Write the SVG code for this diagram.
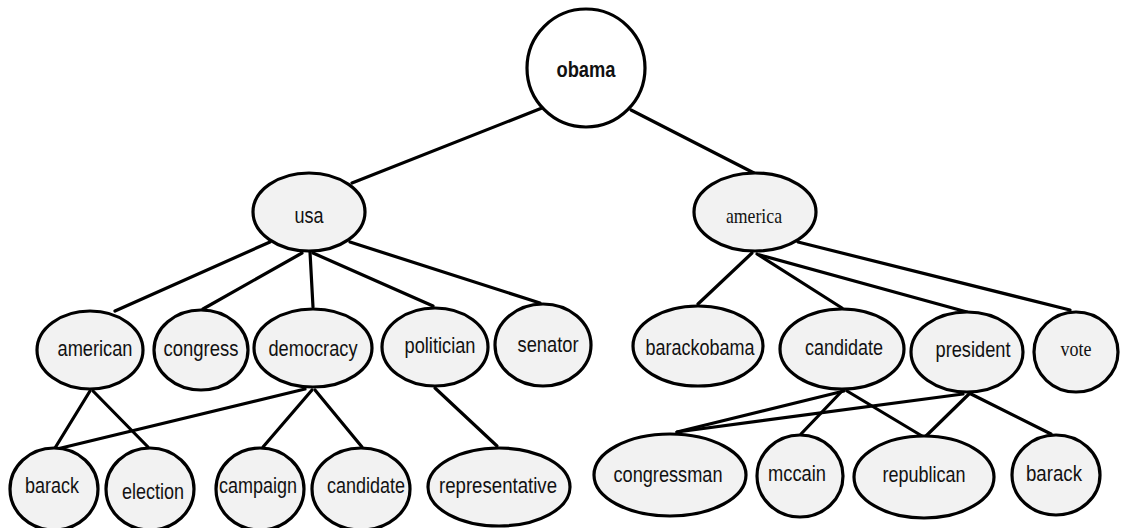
<svg xmlns="http://www.w3.org/2000/svg" width="1122" height="528" viewBox="0 0 1122 528">
  <style>
    .edge { stroke: #000; stroke-width: 3.2; stroke-linecap: round; fill: none; }
    .node { fill: #f2f2f2; stroke: #000; stroke-width: 3.2; }
    .root { fill: #fff; stroke: #000; stroke-width: 3.2; }
    .lbl { font-family: "Liberation Sans", Arial, sans-serif; font-size: 22px; fill: #111; text-anchor: middle; }
    .serif { font-family: "Liberation Serif", "Times New Roman", serif; font-size: 22px; fill: #111; text-anchor: middle; }
    .bold { font-weight: bold; }
  </style>
  <rect width="1122" height="528" fill="#fff"/>

  <!-- connectors -->
  <g id="connectors">
    <line class="edge" x1="542" y1="108" x2="352" y2="183"/>
    <line class="edge" x1="631" y1="110" x2="754" y2="173"/>
    <line class="edge" x1="270" y1="242" x2="115" y2="311"/>
    <line class="edge" x1="302" y1="253" x2="203" y2="309"/>
    <line class="edge" x1="310" y1="252" x2="313" y2="307"/>
    <line class="edge" x1="313" y1="253" x2="433" y2="306"/>
    <line class="edge" x1="350" y1="242" x2="540" y2="303"/>
    <line class="edge" x1="90" y1="391" x2="55" y2="448"/>
    <line class="edge" x1="93" y1="391" x2="148" y2="447"/>
    <line class="edge" x1="305" y1="389" x2="57" y2="449"/>
    <line class="edge" x1="312" y1="390" x2="263" y2="447"/>
    <line class="edge" x1="315" y1="390" x2="362" y2="447"/>
    <line class="edge" x1="435" y1="388" x2="497" y2="446"/>
    <line class="edge" x1="752" y1="253" x2="698" y2="304"/>
    <line class="edge" x1="757" y1="254" x2="842" y2="308"/>
    <line class="edge" x1="760" y1="255" x2="967" y2="312"/>
    <line class="edge" x1="798" y1="242" x2="1070" y2="310"/>
    <line class="edge" x1="844" y1="391" x2="677" y2="432"/>
    <line class="edge" x1="963" y1="394" x2="677" y2="432"/>
    <line class="edge" x1="842" y1="391" x2="801" y2="434"/>
    <line class="edge" x1="847" y1="391" x2="922" y2="436"/>
    <line class="edge" x1="969" y1="394" x2="926" y2="436"/>
    <line class="edge" x1="971" y1="394" x2="1051" y2="434"/>
  </g>

  <!-- root -->
  <g id="n-obama">
    <circle class="root" cx="586" cy="68" r="59"/>
    <text class="lbl bold" x="586" y="77" textLength="59" lengthAdjust="spacingAndGlyphs">obama</text>
  </g>

  <!-- level 1 -->
  <g id="n-usa">
    <ellipse class="node" cx="309" cy="212" rx="56" ry="39"/>
    <text class="lbl" x="309" y="223" textLength="29" lengthAdjust="spacingAndGlyphs">usa</text>
  </g>
  <g id="n-america">
    <ellipse class="node" cx="755" cy="212" rx="61" ry="39"/>
    <text class="serif" x="754" y="223" textLength="56" lengthAdjust="spacingAndGlyphs">america</text>
  </g>

  <!-- level 2, left -->
  <g id="n-american">
    <ellipse class="node" cx="90" cy="350" rx="53" ry="39"/>
    <text class="lbl" x="95" y="356" textLength="75" lengthAdjust="spacingAndGlyphs">american</text>
  </g>
  <g id="n-congress">
    <ellipse class="node" cx="201" cy="350" rx="47" ry="40"/>
    <text class="lbl" x="201" y="356" textLength="75" lengthAdjust="spacingAndGlyphs">congress</text>
  </g>
  <g id="n-democracy">
    <ellipse class="node" cx="313" cy="348" rx="59" ry="39"/>
    <text class="lbl" x="313" y="356" textLength="89" lengthAdjust="spacingAndGlyphs">democracy</text>
  </g>
  <g id="n-politician">
    <ellipse class="node" cx="435" cy="347" rx="53" ry="39"/>
    <text class="lbl" x="440" y="353" textLength="71" lengthAdjust="spacingAndGlyphs">politician</text>
  </g>
  <g id="n-senator">
    <ellipse class="node" cx="543" cy="345" rx="48" ry="41"/>
    <text class="lbl" x="548" y="352" textLength="61" lengthAdjust="spacingAndGlyphs">senator</text>
  </g>

  <!-- level 2, right -->
  <g id="n-barackobama">
    <ellipse class="node" cx="698" cy="346" rx="65" ry="40"/>
    <text class="lbl" x="700" y="355" textLength="109" lengthAdjust="spacingAndGlyphs">barackobama</text>
  </g>
  <g id="n-candidate-r">
    <ellipse class="node" cx="842" cy="349" rx="62" ry="40"/>
    <text class="lbl" x="844" y="355" textLength="78" lengthAdjust="spacingAndGlyphs">candidate</text>
  </g>
  <g id="n-president">
    <ellipse class="node" cx="967" cy="352" rx="56" ry="40"/>
    <text class="lbl" x="973" y="357" textLength="75" lengthAdjust="spacingAndGlyphs">president</text>
  </g>
  <g id="n-vote">
    <ellipse class="node" cx="1076" cy="352" rx="42" ry="40"/>
    <text class="serif" x="1076" y="356" textLength="31" lengthAdjust="spacingAndGlyphs">vote</text>
  </g>

  <!-- level 3, left -->
  <g id="n-barack-l">
    <ellipse class="node" cx="54" cy="489" rx="44" ry="41"/>
    <text class="lbl" x="52" y="493" textLength="54" lengthAdjust="spacingAndGlyphs">barack</text>
  </g>
  <g id="n-election">
    <ellipse class="node" cx="150" cy="489" rx="44" ry="41"/>
    <text class="lbl" x="153" y="499" textLength="62" lengthAdjust="spacingAndGlyphs">election</text>
  </g>
  <g id="n-campaign">
    <ellipse class="node" cx="260" cy="489" rx="44" ry="41"/>
    <text class="lbl" x="258" y="493" textLength="78" lengthAdjust="spacingAndGlyphs">campaign</text>
  </g>
  <g id="n-candidate-l">
    <ellipse class="node" cx="361" cy="489" rx="49" ry="41"/>
    <text class="lbl" x="366" y="493" textLength="78" lengthAdjust="spacingAndGlyphs">candidate</text>
  </g>
  <g id="n-representative">
    <ellipse class="node" cx="499" cy="487" rx="71" ry="39"/>
    <text class="lbl" x="498" y="493" textLength="118" lengthAdjust="spacingAndGlyphs">representative</text>
  </g>

  <!-- level 3, right -->
  <g id="n-congressman">
    <ellipse class="node" cx="670" cy="475" rx="76" ry="41"/>
    <text class="lbl" x="668" y="482" textLength="109" lengthAdjust="spacingAndGlyphs">congressman</text>
  </g>
  <g id="n-mccain">
    <ellipse class="node" cx="800" cy="476" rx="43" ry="41"/>
    <text class="lbl" x="797" y="481" textLength="58" lengthAdjust="spacingAndGlyphs">mccain</text>
  </g>
  <g id="n-republican">
    <ellipse class="node" cx="924" cy="477" rx="70" ry="41"/>
    <text class="lbl" x="924" y="482" textLength="83" lengthAdjust="spacingAndGlyphs">republican</text>
  </g>
  <g id="n-barack-r">
    <ellipse class="node" cx="1056" cy="475" rx="44" ry="40"/>
    <text class="lbl" x="1054" y="481" textLength="56" lengthAdjust="spacingAndGlyphs">barack</text>
  </g>
</svg>
